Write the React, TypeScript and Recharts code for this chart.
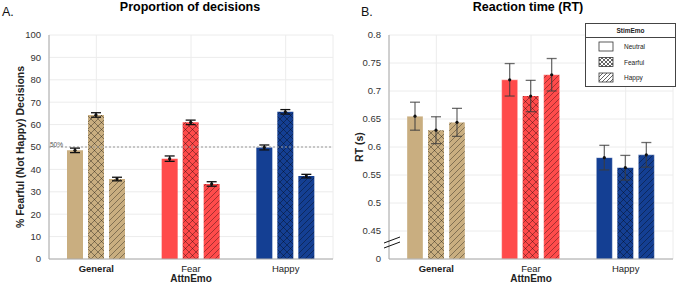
import { BarChart, Bar, XAxis, YAxis, CartesianGrid, ErrorBar, Cell, ReferenceLine, LabelList } from "recharts";

const categories = ["General", "Fear", "Happy"];
const colors = ["#C9AE80", "#FF4B4B", "#143F93"];

// proportion of fearful decisions (%)
const propNeutral = [48.5, 44.8, 49.8];
const propFearful = [64.3, 61.0, 65.7];
const propHappy = [35.7, 33.5, 37.0];
const propNeutralErr = [1.0, 1.2, 1.1];
const propFearfulErr = [1.0, 1.0, 1.0];
const propHappyErr = [0.8, 1.0, 0.8];

// reaction time (s)
const rtNeutral = [0.655, 0.72, 0.581];
const rtFearful = [0.63, 0.691, 0.563];
const rtHappy = [0.644, 0.729, 0.586];
const rtNeutralErr = [0.025, 0.029, 0.022];
const rtFearfulErr = [0.024, 0.028, 0.022];
const rtHappyErr = [0.025, 0.029, 0.022];

const propTicks = [0, 10, 20, 30, 40, 50, 60, 70, 80, 90, 100];
const rtTicks = [0.4, 0.45, 0.5, 0.55, 0.6, 0.65, 0.7, 0.75, 0.8];
const legendNames = ["Neutral", "Fearful", "Happy"];

const propData = categories.map((c, i) => ({
  cat: c,
  neutral: propNeutral[i],
  fearful: propFearful[i],
  happy: propHappy[i],
  neutralErr: propNeutralErr[i],
  fearfulErr: propFearfulErr[i],
  happyErr: propHappyErr[i],
}));

const rtData = categories.map((c, i) => ({
  cat: c,
  neutral: rtNeutral[i],
  fearful: rtFearful[i],
  happy: rtHappy[i],
  neutralErr: rtNeutralErr[i],
  fearfulErr: rtFearfulErr[i],
  happyErr: rtHappyErr[i],
}));

const font = "'Liberation Sans', Arial, sans-serif";

const Patterns = ({ id }: { id: string }) => (
  <defs>
    {colors.map((c, i) => (
      <pattern key={"x" + i} id={`${id}-cross-${i}`} width="7" height="7" patternUnits="userSpaceOnUse">
        <rect width="7" height="7" fill={c} />
        <path d="M0,0 L7,7 M7,0 L0,7" stroke="rgba(0,0,0,0.45)" strokeWidth="0.8" />
      </pattern>
    ))}
    {colors.map((c, i) => (
      <pattern key={"d" + i} id={`${id}-diag-${i}`} width="6" height="6" patternUnits="userSpaceOnUse">
        <rect width="6" height="6" fill={c} />
        <path d="M-1,7 L7,-1 M-1,1 L1,-1 M5,7 L7,5" stroke="rgba(0,0,0,0.45)" strokeWidth="0.8" />
      </pattern>
    ))}
  </defs>
);

const MeanDot = (props: any) => {
  const { x, y, width } = props;
  return <circle cx={x + width / 2} cy={y} r={1.6} fill="#111" />;
};

const XTick = (props: any) => {
  const { x, y, payload } = props;
  return (
    <text x={x} y={y + 5} textAnchor="middle" fontSize={9.5} fill="#222" fontFamily={font}
      fontWeight={payload.value === "General" ? "bold" : "normal"}>
      {payload.value}
    </text>
  );
};

const LegendBox = () => (
  <div style={{ position: "absolute", left: 585, top: 23, width: 89, height: 62, border: "1px solid #444", background: "#fff", fontFamily: font, fontSize: 6.5, color: "#222" }}>
    <div style={{ height: 13, borderBottom: "1px solid #444", textAlign: "center", lineHeight: "13px", fontWeight: "bold" }}>StimEmo</div>
    <svg width={89} height={48} style={{ display: "block" }}>
      <defs>
        <pattern id="lg-cross" width="4" height="4" patternUnits="userSpaceOnUse">
          <path d="M0,0 L4,4 M4,0 L0,4" stroke="#222" strokeWidth="0.7" />
        </pattern>
        <pattern id="lg-diag" width="4" height="4" patternUnits="userSpaceOnUse">
          <path d="M-1,5 L5,-1" stroke="#222" strokeWidth="0.7" />
        </pattern>
      </defs>
      {legendNames.map((name, i) => (
        <g key={name}>
          <rect x={13} y={4 + i * 15.5} width={14} height={9} fill={i === 0 ? "#fff" : i === 1 ? "url(#lg-cross)" : "url(#lg-diag)"} stroke="#333" strokeWidth={0.8} />
          <text x={38} y={11 + i * 15.5} fontSize={6.5} fill="#222">{name}</text>
        </g>
      ))}
    </svg>
  </div>
);

const fmtRt = (v: number) => (Math.abs(v - 0.4) < 1e-9 ? "0" : String(+v.toFixed(2)));

const series = ["neutral", "fearful", "happy"];

const renderBars = (id: string, errStroke: string, errWidth: number) =>
  series.map((s) => (
    <Bar key={s} dataKey={s} barSize={16} isAnimationActive={false}
      stroke={id === "rt" && s !== "fearful" ? "rgba(255,255,255,0.35)" : "none"} strokeWidth={1}>
      {categories.map((c, i) => (
        <Cell key={c} fill={s === "neutral" ? colors[i] : s === "fearful" ? `url(#${id}-cross-${i})` : `url(#${id}-diag-${i})`} />
      ))}
      <ErrorBar dataKey={s + "Err"} width={5} stroke={errStroke} strokeWidth={errWidth} />
      <LabelList dataKey={s} content={MeanDot} />
    </Bar>
  ));

const yTick = { fontSize: 9.5, fill: "#333", fontFamily: font };

export default function App() {
  return (
    <div style={{ position: "absolute", left: 0, top: 0, width: 677, height: 284, background: "#fff", fontFamily: font, overflow: "hidden" }}>
      {/* panel A */}
      <div style={{ position: "absolute", left: 2, top: 5, fontSize: 12.5, color: "#111" }}>A.</div>
      <div style={{ position: "absolute", left: 190, top: 0, transform: "translateX(-50%)", fontSize: 12.5, fontWeight: "bold", whiteSpace: "nowrap" }}>Proportion of decisions</div>
      <div style={{ position: "absolute", left: 20, top: 147, transform: "translate(-50%,-50%) rotate(-90deg)", fontSize: 10.5, fontWeight: "bold", whiteSpace: "nowrap", color: "#222" }}>% Fearful (Not Happy) Decisions</div>
      <div style={{ position: "absolute", left: 191, top: 274, transform: "translateX(-50%)", fontSize: 10, lineHeight: "10px", fontWeight: "bold", color: "#222" }}>AttnEmo</div>
      <div style={{ position: "absolute", left: 0, top: 0 }}>
        <BarChart width={338} height={284} data={propData} margin={{ top: 35, right: 5, bottom: 0, left: 0 }} barGap={5}>
          <Patterns id="prop" />
          <CartesianGrid stroke="#ececec" />
          <XAxis dataKey="cat" height={25} tickLine={false} axisLine={{ stroke: "#aaa" }} tick={<XTick />} />
          <YAxis width={49} domain={[0, 100]} ticks={propTicks} tickLine={false} axisLine={{ stroke: "#aaa" }}
            tick={yTick} interval={0} />
          <ReferenceLine y={50} stroke="#999" strokeDasharray="2 2"
            label={{ value: "50%", position: "insideTopLeft", fontSize: 6.5, fill: "#555", dy: -10, dx: -4 }} />
          {renderBars("prop", "#111", 1.3)}
        </BarChart>
      </div>

      {/* panel B */}
      <div style={{ position: "absolute", left: 361, top: 5, fontSize: 12.5, color: "#111" }}>B.</div>
      <div style={{ position: "absolute", left: 528, top: 0, transform: "translateX(-50%)", fontSize: 12.5, fontWeight: "bold", whiteSpace: "nowrap" }}>Reaction time (RT)</div>
      <div style={{ position: "absolute", left: 359, top: 147, transform: "translate(-50%,-50%) rotate(-90deg)", fontSize: 10.5, fontWeight: "bold", whiteSpace: "nowrap", color: "#222" }}>RT (s)</div>
      <div style={{ position: "absolute", left: 531, top: 274, transform: "translateX(-50%)", fontSize: 10, lineHeight: "10px", fontWeight: "bold", color: "#222" }}>AttnEmo</div>
      <div style={{ position: "absolute", left: 340, top: 0 }}>
        <BarChart width={337} height={284} data={rtData} margin={{ top: 35, right: 4, bottom: 0, left: 0 }} barGap={5}>
          <Patterns id="rt" />
          <CartesianGrid stroke="#ececec" />
          <XAxis dataKey="cat" height={25} tickLine={false} axisLine={{ stroke: "#aaa" }} tick={<XTick />} />
          <YAxis width={49} domain={[0.4, 0.8]} ticks={rtTicks} tickFormatter={fmtRt} tickLine={false} axisLine={{ stroke: "#aaa" }}
            tick={yTick} interval={0} />
          {renderBars("rt", "rgba(60,60,60,0.75)", 1.3)}
        </BarChart>
      </div>
      <LegendBox />
      {/* axis break marker */}
      <svg style={{ position: "absolute", left: 382, top: 234 }} width={22} height={16}>
        <path d="M2,9 L18,3 M2,14 L18,8" stroke="#111" strokeWidth={1} />
      </svg>
    </div>
  );
}
